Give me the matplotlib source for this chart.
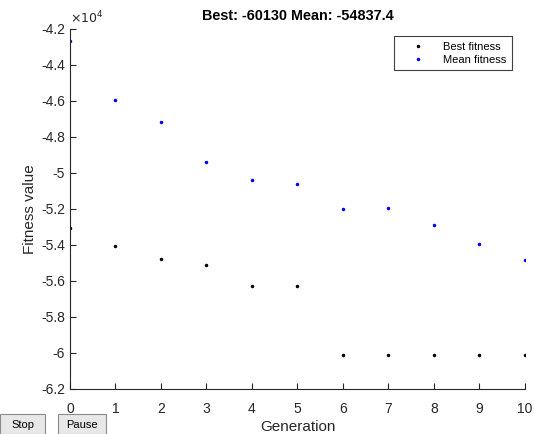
import numpy as np
import matplotlib.pyplot as plt
from matplotlib.patches import Rectangle

generations = np.arange(0, 11)
best_fitness = [-53080, -54040, -54780, -55130, -56290, -56290,
                -60130, -60130, -60130, -60130, -60130]
mean_fitness = [-42670, -45980, -47170, -49420, -50390, -50650,
                -52030, -51940, -52900, -53980, -54837.4]

plt.rcParams["font.family"] = ["Liberation Sans", "DejaVu Sans"]
axis_gray = "#262626"

fig = plt.figure(figsize=(5.34, 4.34), dpi=100)
ax = fig.add_axes([0.131, 0.1037, 0.852, 0.8306])

ax.plot(generations, best_fitness, linestyle="none", marker=".",
        markersize=3, color="black", label="Best fitness")
ax.plot(generations, mean_fitness, linestyle="none", marker=".",
        markersize=3, color="blue", label="Mean fitness")

ax.set_xlim(0, 10)
ax.set_ylim(-62000, -42000)
ax.set_xticks(generations)
ax.set_yticks(np.arange(-62000, -41999, 2000))
ax.set_yticklabels([f"{v / 1e4:g}" for v in np.arange(-62000, -41999, 2000)])

for side in ["top", "right"]:
    ax.spines[side].set_visible(False)
for side in ["left", "bottom"]:
    ax.spines[side].set_color(axis_gray)
    ax.spines[side].set_linewidth(0.8)
ax.tick_params(direction="in", length=4, width=0.8, color=axis_gray,
               labelcolor=axis_gray, labelsize=10)
ax.tick_params(axis="x", pad=9.5)

ax.text(0.0, 1.005, r"$\times10^4$", transform=ax.transAxes,
        ha="left", va="bottom", fontsize=9, color=axis_gray)

ax.set_title("Best: -60130 Mean: -54837.4", fontsize=10.4, fontweight="bold",
             pad=6)
ax.set_xlabel("Generation", fontsize=11, color=axis_gray, labelpad=3)
ax.set_ylabel("Fitness value", fontsize=11, color=axis_gray, labelpad=3)

leg = ax.legend(loc="upper right", bbox_to_anchor=(0.971, 0.978),
                fontsize=8, markerscale=1.0, handlelength=3.3,
                handletextpad=0.6, borderpad=0.5, labelspacing=0.25,
                borderaxespad=0, fancybox=False, framealpha=1)
leg.get_frame().set_edgecolor("#404040")
leg.get_frame().set_linewidth(0.8)

# Stop / Pause buttons along the bottom edge
for x0, w, label in [(0, 45, "Stop"), (58, 48, "Pause")]:
    fig.patches.append(Rectangle((x0 / 534, 0), w / 534, 20 / 434,
                                 transform=fig.transFigure,
                                 facecolor="#e8e8e8", edgecolor="#8a8a8a",
                                 linewidth=0.8))
    fig.text((x0 + w / 2) / 534, 9 / 434, label, ha="center", va="center",
             fontsize=8, color="black")

fig.savefig("out.png", dpi=100)
